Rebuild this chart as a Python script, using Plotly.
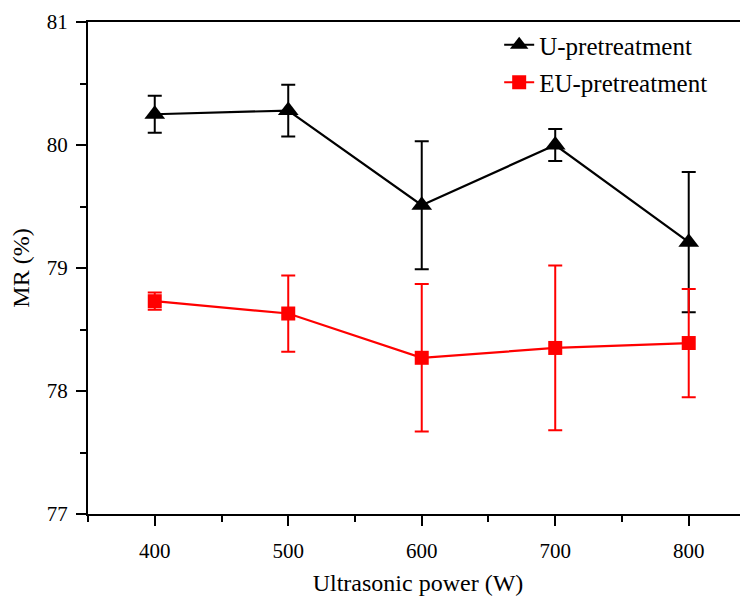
import plotly.graph_objects as go

power = [400, 500, 600, 700, 800]
u_mr = [80.25, 80.28, 79.51, 80.00, 79.21]
u_err = [0.15, 0.21, 0.52, 0.13, 0.57]
eu_mr = [78.73, 78.63, 78.27, 78.35, 78.39]
eu_err = [0.07, 0.31, 0.60, 0.67, 0.44]

FONT = "Liberation Serif, serif"

fig = go.Figure()
fig.add_trace(go.Scatter(
    x=power, y=u_mr, name="U-pretreatment", legendgroup="u",
    mode="lines+markers",
    line=dict(color="black", width=2.2),
    marker=dict(symbol="triangle-up", size=18, color="black"),
    error_y=dict(type="data", array=u_err, visible=True, color="black", thickness=2, width=7),
))
fig.add_trace(go.Scatter(
    x=power, y=eu_mr, name="EU-pretreatment", legendgroup="eu",
    mode="lines+markers",
    line=dict(color="#ff0000", width=2.2),
    marker=dict(symbol="square", size=14, color="#ff0000"),
    error_y=dict(type="data", array=eu_err, visible=True, color="#ff0000", thickness=2, width=7),
))

fig.update_layout(
    width=740, height=593,
    margin=dict(l=80, r=0, t=14, b=87, autoexpand=False),
    plot_bgcolor="white", paper_bgcolor="white",
    font=dict(family=FONT, size=21, color="black"),
    showlegend=True,
    legend=dict(x=0.623, y=1.0, xanchor="left", yanchor="top",
                font=dict(family=FONT, size=25), tracegroupgap=2,
                traceorder="grouped", bgcolor="rgba(0,0,0,0)"),
    xaxis=dict(
        range=[350, 844.4], tickvals=power, ticktext=[str(p) for p in power],
        showgrid=False, zeroline=False, automargin=False,
        showline=True, linecolor="black", linewidth=2, mirror=True,
        ticks="outside", ticklen=10, tickwidth=2, tickcolor="black",
        ticklabelstandoff=7,
        minor=dict(tickvals=[350, 450, 550, 650, 750, 850], ticks="outside", ticklen=6, tickwidth=2, tickcolor="black"),
        title=dict(text="Ultrasonic power (W)", standoff=12, font=dict(size=24)),
    ),
    yaxis=dict(
        range=[77, 81], tickvals=[77, 78, 79, 80, 81],
        showgrid=False, zeroline=False, automargin=False,
        showline=True, linecolor="black", linewidth=2,
        ticks="outside", ticklen=10, tickwidth=2, tickcolor="black",
        ticklabelstandoff=4,
        minor=dict(tickvals=[77.5, 78.5, 79.5, 80.5], ticks="outside", ticklen=6, tickwidth=2, tickcolor="black"),
        title=dict(text="MR (%)", standoff=10, font=dict(size=24)),
    ),
)

fig.write_html("out.html")
